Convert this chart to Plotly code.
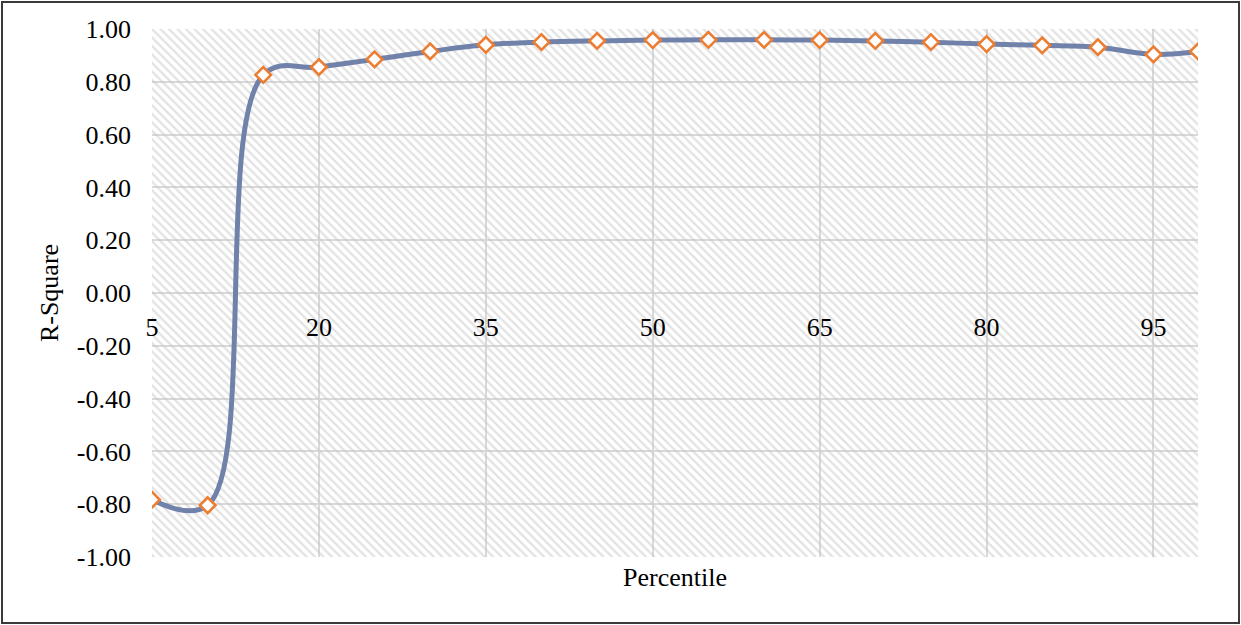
import plotly.graph_objects as go

# Percentile levels and the R-square obtained at each one
percentiles = [5, 10, 15, 20, 25, 30, 35, 40, 45, 50, 55, 60, 65, 70, 75, 80, 85, 90, 95, 99]
r_square = [-0.783, -0.804, 0.826, 0.856, 0.885, 0.915, 0.940, 0.950, 0.955, 0.958,
            0.959, 0.959, 0.958, 0.955, 0.950, 0.943, 0.938, 0.931, 0.904, 0.915]

# Axis settings
X_MIN, X_MAX, X_STEP = 5, 99, 15
Y_MIN, Y_MAX = -1.0, 1.0
y_tick_values = [1.0, 0.8, 0.6, 0.4, 0.2, 0.0, -0.2, -0.4, -0.6, -0.8, -1.0]
y_tick_labels = ["1.00", "0.80", "0.60", "0.40", "0.20", "0.00",
                 "-0.20", "-0.40", "-0.60", "-0.80", "-1.00"]

W, H = 1241, 625
M_L, M_R, M_T, M_B = 152, 43, 29, 68
FONT = "Times New Roman, Liberation Serif, serif"
FS = 26
GRID = "#d9d9d9"
tick_font = dict(family=FONT, size=FS, color="black")

fig = go.Figure()

# Hatched plot-area background
fig.add_trace(go.Scatter(
    x=[X_MIN, X_MAX, X_MAX, X_MIN, X_MIN],
    y=[Y_MIN, Y_MIN, Y_MAX, Y_MAX, Y_MIN],
    mode="none", fill="toself", fillcolor="rgba(0,0,0,0)",
    fillpattern=dict(shape="\\", size=6, solidity=0.38,
                     fgcolor="#c6c6c6", bgcolor="rgba(0,0,0,0)"),
    hoverinfo="skip", showlegend=False,
))

# Smoothed R-square curve with open diamond markers (on the labelled overlay axis)
fig.add_trace(go.Scatter(
    x=percentiles, y=r_square, mode="lines+markers", xaxis="x2",
    line=dict(color="rgb(112,129,170)", width=5, shape="spline", smoothing=1.1),
    marker=dict(symbol="diamond", size=12, color="white",
                line=dict(color="#ED7D31", width=2.6)),
    showlegend=False,
))

fig.update_layout(
    width=W, height=H,
    margin=dict(l=M_L, r=M_R, t=M_T, b=M_B),
    paper_bgcolor="white", plot_bgcolor="white",
    font=dict(family=FONT, size=FS, color="black"),
    xaxis=dict(
        range=[X_MIN, X_MAX], tickmode="linear", tick0=X_MIN, dtick=X_STEP,
        showticklabels=False, showgrid=True, gridcolor=GRID, gridwidth=1.5,
        zeroline=False, showline=False, ticks="",
        title=dict(text="Percentile", standoff=10, font=tick_font),
    ),
    xaxis2=dict(
        overlaying="x", anchor="free", position=0.5, side="bottom",
        range=[X_MIN, X_MAX], tickmode="linear", tick0=X_MIN, dtick=X_STEP,
        showgrid=False, zeroline=False, showline=False,
        ticks="", ticklabelstandoff=16, tickfont=tick_font,
    ),
    yaxis=dict(
        range=[Y_MIN, Y_MAX], tickmode="array",
        tickvals=y_tick_values, ticktext=y_tick_labels,
        showgrid=True, gridcolor=GRID, gridwidth=1.5,
        zeroline=False, showline=False, ticks="",
        ticklabelstandoff=20, tickfont=tick_font,
        title=dict(text="R-Square", standoff=10, font=tick_font),
    ),
)

# Thin dark frame around the whole chart
pw = W - M_L - M_R
ph = H - M_T - M_B
fig.add_shape(
    type="rect", xref="paper", yref="paper", layer="above",
    x0=(2 - M_L) / pw, x1=(W - 2 - M_L) / pw,
    y0=(2 - M_B) / ph, y1=(H - 2 - M_B) / ph,
    line=dict(color="#3a3a3a", width=2), fillcolor="rgba(0,0,0,0)",
)

fig.write_html("out.html")
